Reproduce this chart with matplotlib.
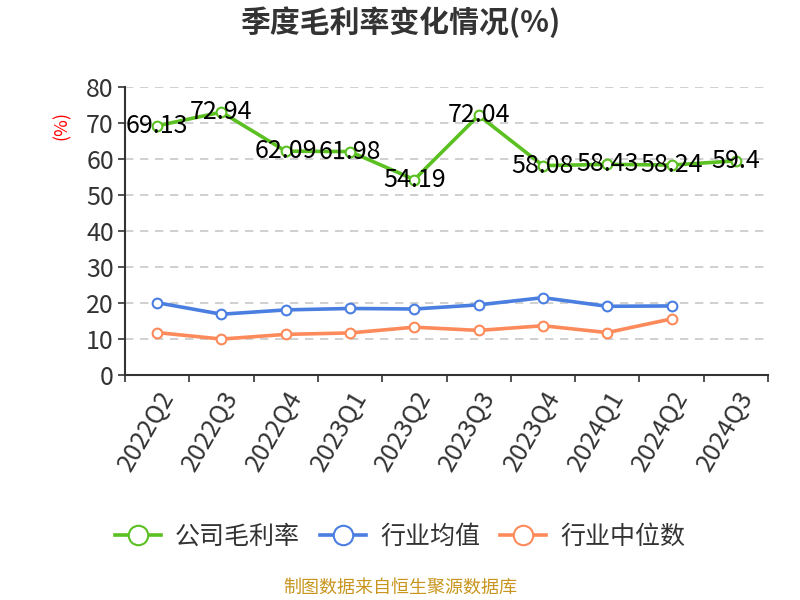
import numpy as np
import matplotlib.pyplot as plt

plt.rcParams['font.family'] = ['Noto Sans CJK SC', 'DejaVu Sans']

quarters = ['2022Q2', '2022Q3', '2022Q4', '2023Q1', '2023Q2',
            '2023Q3', '2023Q4', '2024Q1', '2024Q2', '2024Q3']
company = [69.13, 72.94, 62.09, 61.98, 54.19, 72.04, 58.08, 58.43, 58.24, 59.4]
ind_mean = [20.0, 16.8, 18.0, 18.4, 18.25, 19.4, 21.4, 19.0, 19.1]
ind_median = [11.7, 9.9, 11.2, 11.6, 13.2, 12.3, 13.6, 11.7, 15.5]

green = '#5bc022'
blue = '#4a7ee0'
orange = '#fd8a5a'

fig = plt.figure(figsize=(8, 6), dpi=100)
ax = fig.add_axes([125/800, 1-374.7/600, (768-125)/800, 288/600])

x = np.arange(len(quarters))
mk = dict(marker='o', markersize=7, markerfacecolor='white', markeredgewidth=1.5)
ax.plot(x, company, color=green, lw=2.6, label='公司毛利率', markeredgecolor=green, **mk, zorder=3)
ax.plot(x[:len(ind_mean)], ind_mean, color=blue, lw=2.6, label='行业均值', markeredgecolor=blue, **mk, zorder=3)
ax.plot(x[:len(ind_median)], ind_median, color=orange, lw=2.6, label='行业中位数', markeredgecolor=orange, **mk, zorder=3)

for xi, v in zip(x, company):
    ax.text(xi, v, f'{v:g}', ha='center', va='center', fontsize=18, color='black', zorder=4)

ax.set_xlim(-0.5, len(quarters) - 0.5)
ax.set_ylim(0, 80)
ax.set_yticks(np.arange(0, 81, 10))
ax.tick_params(axis='y', labelsize=18, colors='#333333', length=5, width=1.2, pad=3)
ax.set_xticks(np.arange(-0.5, len(quarters), 1))
ax.set_xticklabels([])
ax.tick_params(axis='x', which='major', length=5, width=1.2, color='#333333')
ax.set_xticks(x, minor=True)
ax.set_xticklabels(quarters, minor=True, rotation=60, ha='right', va='top',
                   rotation_mode='anchor', fontsize=18, color='#333333')
ax.tick_params(axis='x', which='minor', length=0, pad=8)

ax.grid(axis='y', linestyle=(0, (5, 4)), color='#c8c8c8', lw=1.2)
ax.set_axisbelow(True)
for s in ['top', 'right']:
    ax.spines[s].set_visible(False)
for s in ['left', 'bottom']:
    ax.spines[s].set_color('#333333')
    ax.spines[s].set_linewidth(1.5)

fig.text(62/800, 1-125/600, '(%)', color='red', rotation=90, ha='center', va='center', fontsize=13)
fig.text(0.5, 1-22/600, '季度毛利率变化情况(%)', ha='center', va='center', fontsize=21.5,
         fontweight='bold', color='#333333')

fig.legend(loc='center', bbox_to_anchor=(0.5, 1-537/600), ncol=3, frameon=False,
           fontsize=18, handlelength=1.85, columnspacing=0.8, handletextpad=0.55,
           labelcolor='#333333', markerscale=2.0)
fig.text(0.5, 1-588/600, '制图数据来自恒生聚源数据库', ha='center', va='center',
         fontsize=13, color='#c8961e')

fig.savefig('out.png', dpi=100)
